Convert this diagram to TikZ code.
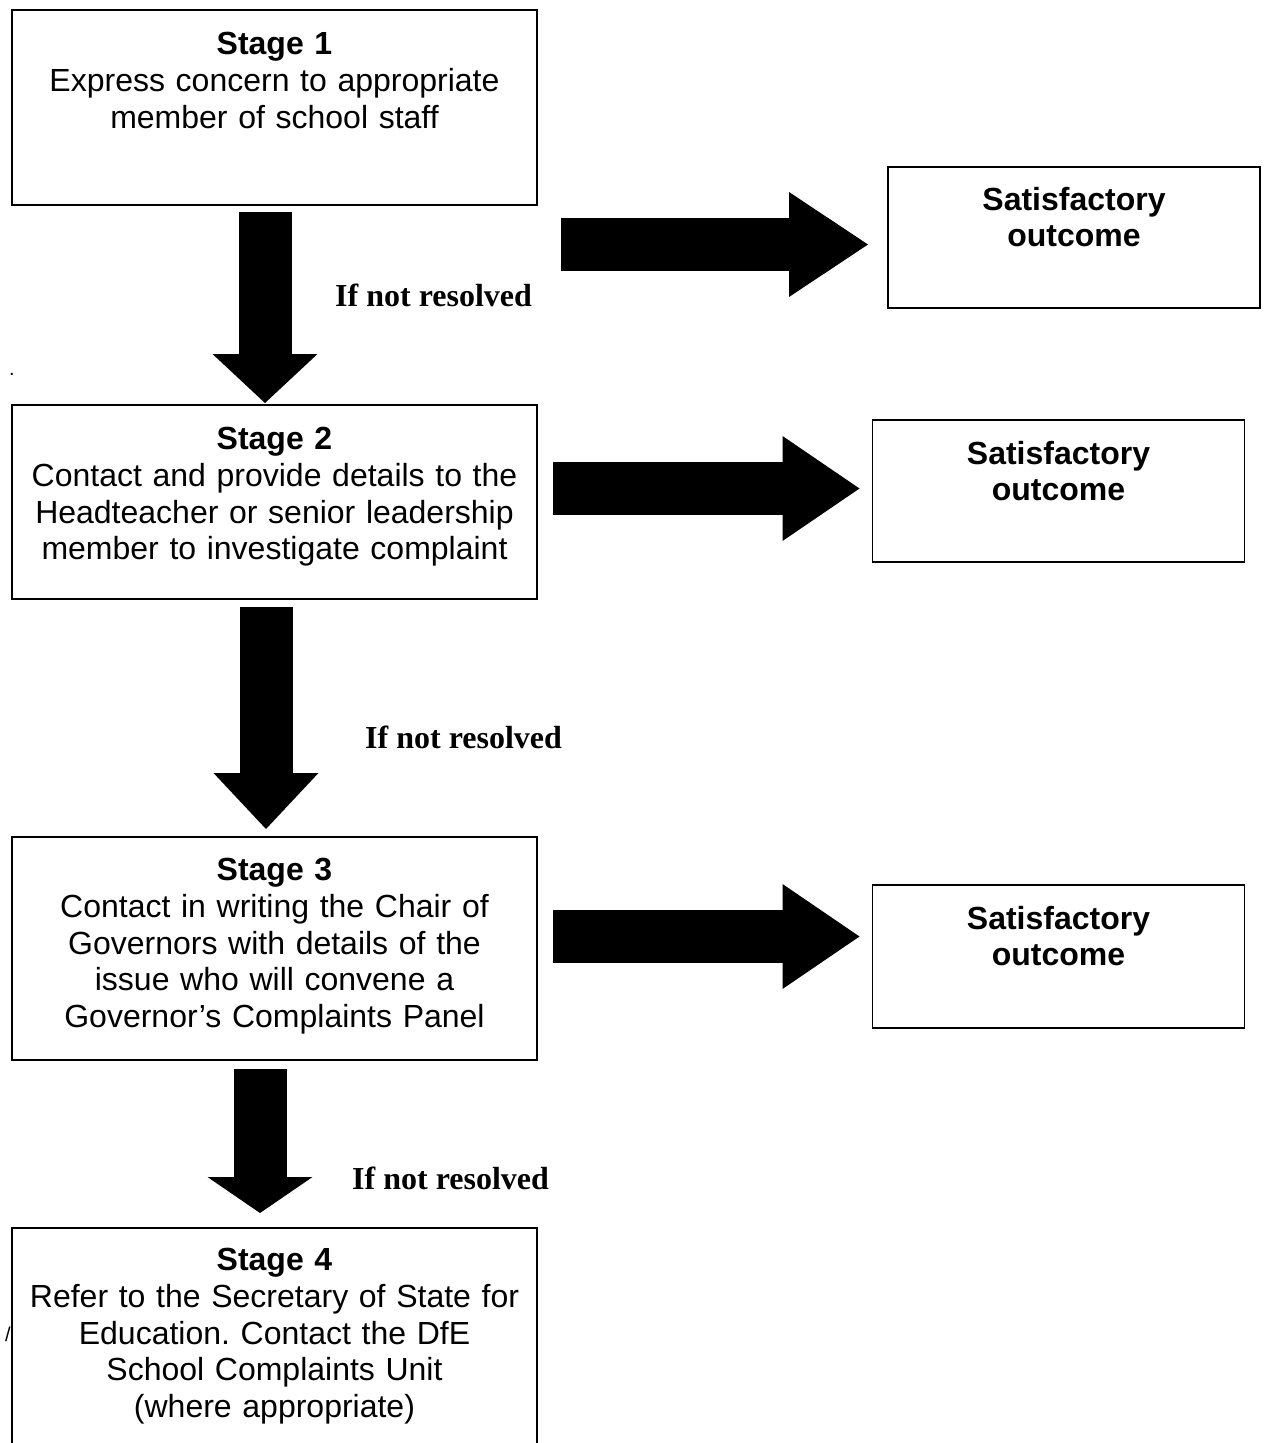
\documentclass[tikz,border=0pt]{standalone}
\usepackage{fontspec}
\setmainfont{Liberation Sans}
\newfontfamily\notefont{Liberation Serif}
\frenchspacing
\usetikzlibrary{positioning,calc,arrows.meta}
\tikzstyle{stage} = [rectangle, draw=black, line width=1.5pt, minimum width=525pt, outer sep=0pt, inner sep=0pt]
\tikzstyle{outcome} = [rectangle, draw=black, line width=1.5pt, minimum width=372pt, outer sep=0pt, inner sep=0pt]
\tikzstyle{boxtext} = [text width=520pt, align=center, inner sep=0pt, font=\fontsize{32}{36.8}\selectfont]
\tikzstyle{outtext} = [align=center, inner sep=0pt, font=\fontsize{32}{36}\selectfont\bfseries]
\tikzstyle{note} = [inner sep=0pt, anchor=base west, font=\notefont\fontsize{32}{36}\selectfont\bfseries]
\tikzstyle{stray} = [inner sep=0pt, font=\fontsize{20}{20}\selectfont]
\tikzset{bigarrow/.style={line width=53pt, -{Triangle[width=105pt 0 0, length=#1 0 0, line width=0pt 0 0]}}}

\begin{document}
\begin{tikzpicture}[x=1pt, y=-1pt]
    \useasboundingbox (0,0) rectangle (1264,1443);
    % stages
    \node (s1) [stage, minimum height=195pt] at (274.5,107.5) {};
    \node (s2) [stage, minimum height=194pt] at (274.5,502) {};
    \node (s3) [stage, minimum height=223pt] at (274.5,948.5) {};
    \node (s4) [stage, minimum height=240pt] at (274.5,1348) {};
    \node (t1) [boxtext, below=22pt of s1.north] {\textbf{Stage 1}\\Express concern to appropriate\\member of school staff};
    \node (t2) [boxtext, below=22pt of s2.north] {\textbf{Stage 2}\\Contact and provide details to the\\Headteacher or senior leadership\\member to investigate complaint};
    \node (t3) [boxtext, below=21pt of s3.north] {\textbf{Stage 3}\\Contact in writing the Chair of\\Governors with details of the\\issue who will convene a\\Governor’s Complaints Panel};
    \node (t4) [boxtext, below=20pt of s4.north] {\textbf{Stage 4}\\Refer to the Secretary of State for\\Education. Contact the DfE\\School Complaints Unit\\(where appropriate)};
    % outcomes
    \node (o1) [outcome, minimum height=141pt] at (1074,237.5) {};
    \node (o2) [outcome, minimum height=142pt] at (1058.5,491) {};
    \node (o3) [outcome, minimum height=143pt] at (1058.5,956.5) {};
    \node (u1) [outtext, below=20pt of o1.north] {Satisfactory\\outcome};
    \node (u2) [outtext, below=21pt of o2.north] {Satisfactory\\outcome};
    \node (u3) [outtext, below=21pt of o3.north] {Satisfactory\\outcome};
    % block arrows
    \draw [bigarrow=49pt] ($(s1.south)+(-9.5,7)$) -- ($(s2.north)+(-9.5,-2)$);
    \draw [bigarrow=56pt] ($(s2.south)+(-8.5,8)$) -- ($(s3.north)+(-8.5,-8)$);
    \draw [bigarrow=36pt] ($(s3.south)+(-14.5,9)$) -- ($(s4.north)+(-14.5,-15)$);
    \draw [bigarrow=79pt] ($(s1.east |- o1.west)+(24,7)$) -- ($(o1.west)+(-20,7)$);
    \draw [bigarrow=77pt] ($(s2.east |- o2.west)+(16,-2.5)$) -- ($(o2.west)+(-13,-2.5)$);
    \draw [bigarrow=77pt] ($(s3.east |- o3.west)+(16,-20)$) -- ($(o3.west)+(-13,-20)$);
    % labels
    \node (l1) [note] at (335,306) {If not resolved};
    \node (l2) [note] at (365,748) {If not resolved};
    \node (l3) [note] at (352,1189) {If not resolved};
    \node (d1) [stray] at (12,374) {.};
    \node (d2) [stray] at (8,1334) {/};
\end{tikzpicture}
\end{document}
